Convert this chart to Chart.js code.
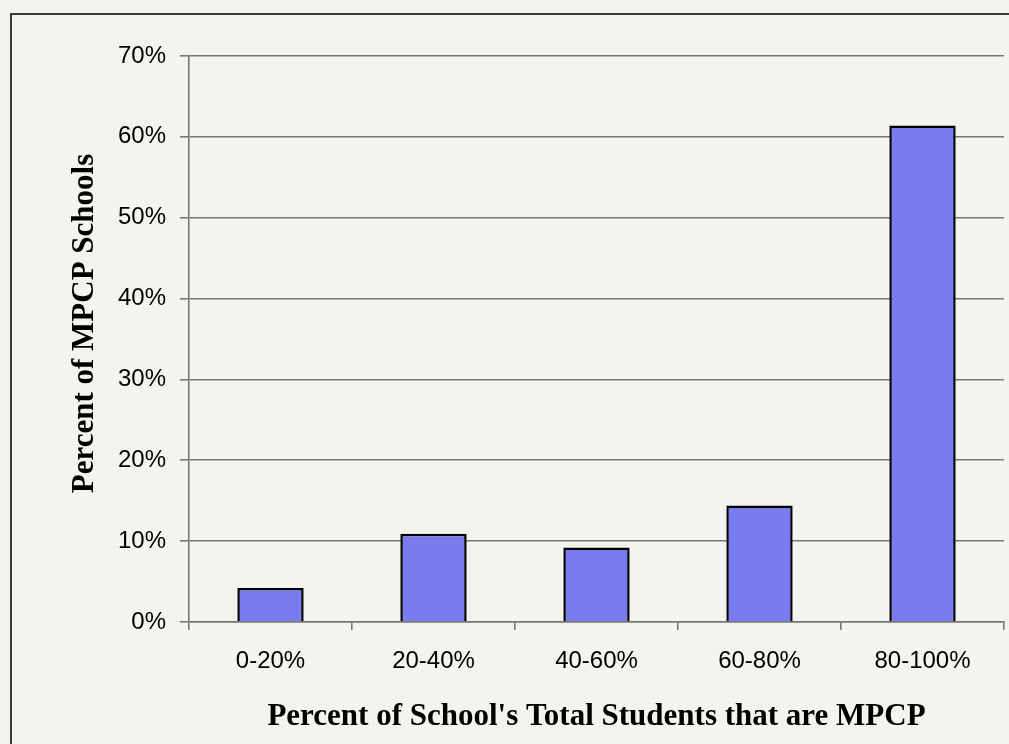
<!DOCTYPE html>
<html>
<head>
<meta charset="utf-8">
<script src="https://cdn.jsdelivr.net/npm/chart.js@4"></script>
<style>
  html, body { margin: 0; padding: 0; background: #f4f4ef; overflow: hidden; }
  #wrap { position: relative; width: 1009px; height: 744px; }
  #frame {
    position: absolute; left: 10px; top: 13px; width: 1100px; height: 800px;
    border-left: 2px solid #3a3a3a; border-top: 2px solid #3a3a3a;
  }
  #chart { position: absolute; left: 0; top: 0; }
</style>
</head>
<body>
<div id="wrap">
  <div id="frame"></div>
  <canvas id="chart" width="1009" height="744"></canvas>
</div>
<script>
const labels = ["0-20%", "20-40%", "40-60%", "60-80%", "80-100%"];
const schoolShare = [4.2, 10.9, 9.2, 14.4, 61.4];
const yTicks = [0, 10, 20, 30, 40, 50, 60, 70];

const gridColor = "#777777";

const data = {
  labels: labels,
  datasets: [
    {
      label: "Percent of MPCP Schools",
      backgroundColor: "#7b7bf0",
      borderColor: "#000000",
      borderWidth: 2.5,
      categoryPercentage: 1,
      barPercentage: 0.407,
      data: schoolShare,
    },
  ],
};

const config = {
  type: "bar",
  data: data,
  options: {
    responsive: false,
    animation: false,
    layout: { padding: { top: 56, right: 5, left: 0, bottom: 0 } },
    plugins: {
      legend: { display: false },
      tooltip: { enabled: false },
    },
    scales: {
      x: {
        afterFit: (scale) => { scale.height = 122; },
        grid: {
          display: true,
          drawOnChartArea: false,
          color: gridColor,
          lineWidth: 1.6,
          tickLength: 8,
        },
        border: { color: gridColor, width: 1.6 },
        ticks: {
          color: "#000",
          padding: 17,
          font: { family: "'Liberation Sans', Arial, sans-serif", size: 24 },
        },
        title: {
          display: true,
          text: "Percent of School's Total Students that are MPCP",
          color: "#000",
          padding: { top: 0, bottom: 8 },
          font: { family: "'Liberation Serif', 'Times New Roman', serif", size: 31, weight: "bold" },
        },
      },
      y: {
        min: 0,
        max: 70,
        afterFit: (scale) => { scale.width = 189; },
        afterBuildTicks: (scale) => { scale.ticks = yTicks.map(v => ({ value: v })); },
        grid: {
          color: gridColor,
          lineWidth: 1.6,
          tickLength: 9,
        },
        border: { color: gridColor, width: 1.6 },
        ticks: {
          color: "#000",
          padding: 14,
          callback: (v) => v + "%",
          font: { family: "'Liberation Sans', Arial, sans-serif", size: 24 },
        },
        title: {
          display: true,
          // leading em space nudges the rotated title up, as in the original
          text: "\u2003Percent of MPCP Schools",
          color: "#000",
          padding: { top: 66, bottom: 0 },
          font: { family: "'Liberation Serif', 'Times New Roman', serif", size: 31, weight: "bold" },
        },
      },
    },
  },
};

const myChart = new Chart(document.getElementById("chart"), config);
</script>
</body>
</html>
